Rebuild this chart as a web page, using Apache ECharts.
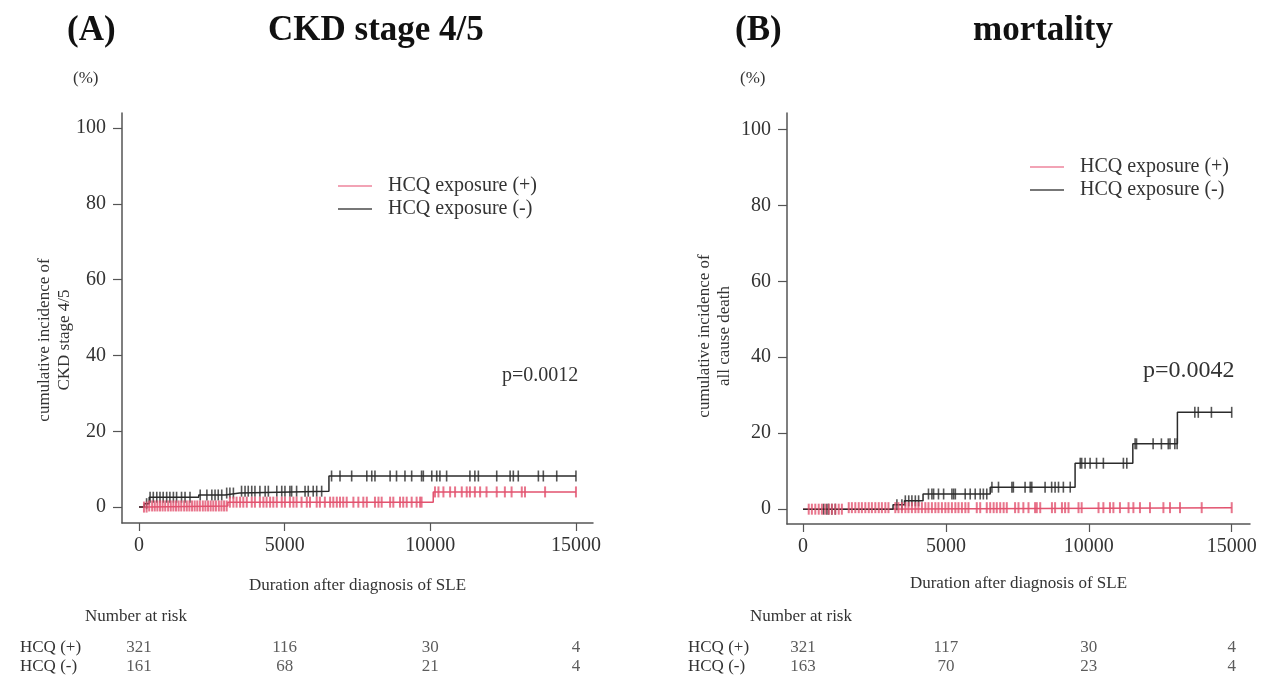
<!DOCTYPE html>
<html>
<head>
<meta charset="utf-8">
<script src="https://cdn.jsdelivr.net/npm/echarts@6/dist/echarts.min.js"></script>
<style>
  html, body { margin: 0; padding: 0; background: #fff; }
  #main { width: 1268px; height: 684px; }
</style>
</head>
<body>
<div id="main"></div>
<script>
// cumulative incidence step curves: [day, % from that day on]
var stepsA_pos = [[0, 0], [300, 0.3], [3050, 1.3], [10100, 4.0], [15000, 4.0]];
var stepsA_neg = [[0, 0], [180, 0.9], [350, 2.6], [2050, 3.2], [2950, 3.7], [3450, 4.2], [6520, 8.2], [15000, 8.2]];
var stepsB_pos = [[0, 0], [1500, 0.4], [15000, 0.4]];
var stepsB_neg = [[0, 0], [3150, 1.2], [3550, 2.2], [4200, 4.0], [6550, 5.8], [9520, 12.1], [11540, 17.2], [13100, 25.5], [15000, 25.5]];

// censoring times (days)
var censA_pos = [170, 260, 350, 450, 540, 630, 720, 810, 900, 1000, 1090, 1180, 1270, 1360, 1450, 1550,
  1640, 1730, 1820, 1910, 2000, 2090, 2190, 2280, 2370, 2460, 2550, 2640, 2740, 2830, 2920, 3010,
  3120, 3240, 3350, 3470, 3580, 3700, 3870, 3980, 4150, 4270, 4380, 4500, 4610, 4730, 4900, 5010,
  5180, 5300, 5410, 5580, 5760, 5870, 6100, 6210, 6380, 6560, 6670, 6790, 6900, 7010, 7130, 7360,
  7530, 7700, 7820, 8100, 8220, 8330, 8620, 8730, 8960, 9070, 9190, 9360, 9530, 9650, 9700,
  10160, 10280, 10450, 10680, 10850, 11080, 11250, 11360, 11530, 11710, 11930, 12280, 12560, 12790,
  13140, 13250, 13940, 15000];
var censA_neg = [260, 380, 490, 610, 720, 830, 950, 1060, 1180, 1290, 1460, 1580, 1750, 2100, 2330, 2500,
  2610, 2720, 2840, 3010, 3120, 3240, 3520, 3640, 3750, 3870, 3980, 4150, 4330, 4440, 4730, 4900,
  5010, 5180, 5240, 5410, 5700, 5810, 5980, 6100, 6270, 6610, 6900, 7300, 7820, 7990, 8100, 8620,
  8840, 9130, 9360, 9700, 9760, 10050, 10220, 10330, 10560, 11360, 11530, 11650, 12280, 12740,
  12850, 13020, 13710, 13880, 14340, 15000];
var censB_pos = [200, 310, 430, 550, 660, 780, 900, 1010, 1130, 1250, 1360, 1600, 1710, 1830, 1950, 2060,
  2180, 2300, 2410, 2530, 2650, 2760, 2880, 2990, 3230, 3340, 3460, 3580, 3690, 3810, 3930, 4040,
  4160, 4280, 4390, 4510, 4630, 4740, 4860, 4980, 5090, 5210, 5330, 5440, 5560, 5680, 5790, 6080,
  6200, 6430, 6550, 6670, 6780, 6900, 7020, 7130, 7420, 7540, 7710, 7890, 8120, 8180, 8300, 8710,
  8820, 9060, 9170, 9290, 9640, 9750, 10340, 10510, 10740, 10860, 11090, 11390, 11560, 11790, 12140,
  12610, 12840, 13190, 13950, 15000];
var censB_neg = [720, 835, 895, 1010, 1130, 3285, 3460, 3580, 3700, 3810, 3930, 4045, 4390, 4510, 4570,
  4740, 4920, 5210, 5270, 5330, 5675, 5850, 6025, 6200, 6310, 6430, 6610, 6840, 7310, 7360, 7770,
  7950, 8005, 8470, 8700, 8820, 8940, 9110, 9350, 9700, 9750, 9870, 10045, 10270, 10510, 11210,
  11330, 11620, 11670, 12250, 12540, 12780, 12840, 13010, 13090, 13710, 13830, 14290, 15000];

// number at risk
var riskTimes = [0, 5000, 10000, 15000];
var riskRows = ['HCQ (+)', 'HCQ (-)'];
var riskA_pos = [321, 116, 30, 4];
var riskA_neg = [161, 68, 21, 4];
var riskB_pos = [321, 117, 30, 4];
var riskB_neg = [163, 70, 23, 4];

var yTicks = [0, 20, 40, 60, 80, 100];
var xTicks = [0, 5000, 10000, 15000];

var RED = '#e2536f';
var BLACK = '#2b2b2b';
var FONT = '"Liberation Serif", "DejaVu Serif", serif';

function levelAt(steps, t) {
  var v = steps[0][1];
  for (var i = 0; i < steps.length; i++) {
    if (steps[i][0] <= t) v = steps[i][1];
  }
  return v;
}
function censorPoints(steps, times) {
  return times.map(function (t) { return [t, levelAt(steps, t)]; });
}
function riskPoints(pos, neg) {
  var out = [];
  riskTimes.forEach(function (t, i) {
    out.push([t, riskRows[0], pos[i]]);
    out.push([t, riskRows[1], neg[i]]);
  });
  return out;
}

var chart = echarts.init(document.getElementById('main'));

function xAxisFor(grid, min, max, show, gap) {
  return {
    type: 'value', gridIndex: grid, min: min, max: max,
    splitLine: { show: false },
    axisLine: { show: show, onZero: false, lineStyle: { color: '#555', width: 1.5 } },
    axisTick: { show: show, customValues: xTicks, length: 8, lineStyle: { color: '#555', width: 1.2 } },
    axisLabel: {
      show: show, customValues: xTicks, margin: 13, color: '#333', fontFamily: FONT, fontSize: 20,
      formatter: function (v) { return String(v); }
    },
    name: show ? 'Duration after diagnosis of SLE' : '',
    nameLocation: 'middle', nameGap: gap,
    nameTextStyle: { color: '#333', fontFamily: FONT, fontSize: 17 }
  };
}
function yAxisFor(grid, min, max) {
  return {
    type: 'value', gridIndex: grid, min: min, max: max,
    splitLine: { show: false },
    axisLine: { show: true, onZero: false, lineStyle: { color: '#555', width: 1.5 } },
    axisTick: { show: true, customValues: yTicks, length: 9, lineStyle: { color: '#555', width: 1.2 } },
    axisLabel: { customValues: yTicks, margin: 16, color: '#333', fontFamily: FONT, fontSize: 20 }
  };
}
function riskY(grid, margin) {
  return {
    type: 'category', gridIndex: grid, data: riskRows, inverse: true,
    axisLine: { show: false }, axisTick: { show: false },
    axisLabel: { interval: 0, align: 'left', margin: margin, color: '#333', fontFamily: FONT, fontSize: 17 }
  };
}
function stepLine(name, steps, color, xi) {
  return {
    name: name, type: 'line', step: 'end', xAxisIndex: xi, yAxisIndex: xi,
    data: steps, symbol: 'none', lineStyle: { color: color, width: 1.5 },
    itemStyle: { color: color }, z: 3
  };
}
function censors(steps, times, color, xi, w) {
  return {
    type: 'scatter', xAxisIndex: xi, yAxisIndex: xi,
    data: censorPoints(steps, times), symbol: 'rect', symbolSize: [w, 11],
    itemStyle: { color: color }, silent: true, z: 4
  };
}
function riskSeries(pos, neg, xi) {
  return {
    type: 'scatter', xAxisIndex: xi, yAxisIndex: xi,
    data: riskPoints(pos, neg), symbolSize: 0, silent: true,
    label: {
      show: true, position: 'inside', color: '#333', fontFamily: FONT, fontSize: 17,
      formatter: function (p) { return p.value[2]; }
    }
  };
}

var legendStyle = { color: '#333', fontFamily: FONT, fontSize: 20, padding: [0, 0, 0, 11] };
var legendData = [
  { name: 'HCQ exposure (+)', icon: 'rect', itemStyle: { color: '#f2a3b5' } },
  { name: 'HCQ exposure (-)', icon: 'rect', itemStyle: { color: '#777' } }
];
function legendAt(left, top) {
  return {
    data: legendData, orient: 'vertical', left: left, top: top,
    itemWidth: 34, itemHeight: 2, itemGap: 3, textStyle: legendStyle,
    selectedMode: false, padding: 0
  };
}

chart.setOption({
  animation: false,
  textStyle: { fontFamily: FONT },
  title: [
    { text: '(A)', left: 62, top: 8, textStyle: { fontFamily: FONT, fontSize: 35, fontWeight: 'bold', color: '#111' } },
    { text: 'CKD stage 4/5', left: 263, top: 8, textStyle: { fontFamily: FONT, fontSize: 35, fontWeight: 'bold', color: '#111' } },
    { text: '(B)', left: 730, top: 8, textStyle: { fontFamily: FONT, fontSize: 35, fontWeight: 'bold', color: '#111' } },
    { text: 'mortality', left: 968, top: 8, textStyle: { fontFamily: FONT, fontSize: 35, fontWeight: 'bold', color: '#111' } }
  ],
  legend: [legendAt(338, 176), legendAt(1030, 157)],
  grid: [
    { left: 122, top: 113, width: 471, height: 410 },
    { left: 787, top: 113, width: 463, height: 411 },
    { left: 122, top: 638, width: 471, height: 38 },
    { left: 787, top: 638, width: 463, height: 38 }
  ],
  xAxis: [
    xAxisFor(0, -584, 15585, true, 54),
    xAxisFor(1, -560, 15640, true, 51),
    xAxisFor(2, -584, 15585, false, 0),
    xAxisFor(3, -560, 15640, false, 0)
  ],
  yAxis: [
    yAxisFor(0, -4.2, 104),
    yAxisFor(1, -3.9, 104.3),
    riskY(2, 102),
    riskY(3, 99)
  ],
  graphic: [
    { type: 'text', left: 73, top: 70, style: { text: '(%)', font: '17px ' + FONT, fill: '#333' } },
    { type: 'text', left: 740, top: 70, style: { text: '(%)', font: '17px ' + FONT, fill: '#333' } },
    { type: 'text', x: 55, y: 340, rotation: Math.PI / 2,
      style: { text: 'cumulative incidence of\nCKD stage 4/5', font: '17px ' + FONT, fill: '#333', align: 'center', verticalAlign: 'middle', lineHeight: 20 } },
    { type: 'text', x: 715, y: 336, rotation: Math.PI / 2,
      style: { text: 'cumulative incidence of\nall cause death', font: '17px ' + FONT, fill: '#333', align: 'center', verticalAlign: 'middle', lineHeight: 20 } },
    { type: 'text', left: 502, top: 366, style: { text: 'p=0.0012', font: '20px ' + FONT, fill: '#333' } },
    { type: 'text', left: 1143, top: 359, style: { text: 'p=0.0042', font: '24px ' + FONT, fill: '#333' } },
    { type: 'text', left: 85, top: 608, style: { text: 'Number at risk', font: '17px ' + FONT, fill: '#333' } },
    { type: 'text', left: 750, top: 608, style: { text: 'Number at risk', font: '17px ' + FONT, fill: '#333' } }
  ],
  series: [
    stepLine('HCQ exposure (+)', stepsA_pos, RED, 0),
    stepLine('HCQ exposure (-)', stepsA_neg, BLACK, 0),
    censors(stepsA_neg, censA_neg, BLACK, 0, 1.6),
    censors(stepsA_pos, censA_pos, RED, 0, 2),
    stepLine('HCQ exposure (+)', stepsB_pos, RED, 1),
    stepLine('HCQ exposure (-)', stepsB_neg, BLACK, 1),
    censors(stepsB_neg, censB_neg, BLACK, 1, 1.6),
    censors(stepsB_pos, censB_pos, RED, 1, 2),
    riskSeries(riskA_pos, riskA_neg, 2),
    riskSeries(riskB_pos, riskB_neg, 3)
  ]
});
</script>
</body>
</html>
